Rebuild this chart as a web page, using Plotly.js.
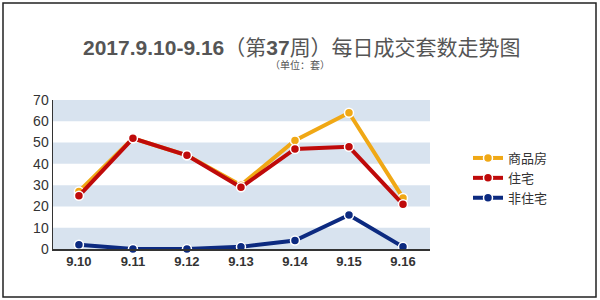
<!DOCTYPE html>
<html>
<head>
<meta charset="utf-8">
<script src="https://cdn.plot.ly/plotly-3.0.1.min.js"></script>
<style>
html,body{margin:0;padding:0;background:#fff;}
#chart{width:600px;height:300px;}
</style>
</head>
<body>
<div id="chart"></div>
<script>
const categories = ["9.10","9.11","9.12","9.13","9.14","9.15","9.16"];
const commercial = [27, 52, 44, 30, 51, 64, 24];   // 商品房
const residential = [25, 52, 44, 29, 47, 48, 21];  // 住宅
const nonResidential = [2, 0, 0, 1, 4, 16, 1];     // 非住宅
const seriesNames = ["商品房", "住宅", "非住宅"];
const yTicks = [0, 10, 20, 30, 40, 50, 60, 70];

const W = 600, H = 300;
const mL = 53, mR = 170, mT = 100, mB = 51;
const pw = W - mL - mR, ph = H - mT - mB;
const px = x => (x - mL) / pw;
const py = y => (H - mB - y) / ph;

const fontFam = "Liberation Sans, Arial, Noto Sans CJK SC, sans-serif";

function mk(name, ys, color) {
  return {
    type: "scatter", mode: "lines+markers", name: name,
    x: categories, y: ys,
    line: {color: color, width: 4},
    marker: {color: color, size: 9, line: {color: "#ffffff", width: 1.5}},
    cliponaxis: false
  };
}

const data = [
  mk(seriesNames[0], commercial, "#f0a815"),
  mk(seriesNames[1], residential, "#bf0a0a"),
  mk(seriesNames[2], nonResidential, "#0c2a80")
];

const shapes = [];
for (let i = 0; i < 70; i += 20) {
  shapes.push({type: "rect", xref: "paper", yref: "y", x0: 0, x1: 1, y0: i, y1: i + 10,
    fillcolor: "#d8e3ef", line: {width: 0}, layer: "below"});
}
// outer frame
shapes.push({type: "rect", xref: "paper", yref: "paper",
  x0: px(3), x1: px(596), y0: py(297), y1: py(3),
  line: {color: "#222", width: 1.5}, fillcolor: "rgba(0,0,0,0)", layer: "above"});

const layout = {
  width: W, height: H,
  margin: {l: mL, r: mR, t: mT, b: mB, pad: 0},
  paper_bgcolor: "#ffffff", plot_bgcolor: "#ffffff",
  title: {
    text: "<b>2017.9.10-9.16</b>（第<b>37</b>周）每日成交套数走势图",
    font: {family: fontFam, size: 21, color: "#555555"},
    x: 0.503, xanchor: "center", xref: "container",
    y: 1 - 48 / H, yanchor: "middle", yref: "container"
  },
  annotations: [{
    text: "（单位：套）", xref: "paper", yref: "paper",
    x: px(300), y: py(65), xanchor: "center", yanchor: "middle",
    showarrow: false, font: {family: fontFam, size: 10, color: "#555555"}
  }],
  xaxis: {
    type: "category", range: [-0.48, 6.5],
    showgrid: false, zeroline: false,
    showline: true, linecolor: "#333333", linewidth: 1.5,
    ticks: "", tickfont: {family: fontFam, size: 13, color: "#333333", weight: "bold"},
    fixedrange: true
  },
  yaxis: {
    range: [0, 70], tickvals: yTicks,
    showgrid: false, zeroline: false,
    showline: true, linecolor: "#333333", linewidth: 1.5,
    ticks: "", ticklen: 0,
    tickfont: {family: fontFam, size: 14, color: "#333333"},
    fixedrange: true
  },
  showlegend: true,
  legend: {
    x: px(468), xanchor: "left", y: py(178), yanchor: "middle",
    font: {family: fontFam, size: 13, color: "#333333"},
    bgcolor: "rgba(0,0,0,0)", tracegroupgap: 0, itemwidth: 30
  },
  shapes: shapes
};

Plotly.newPlot("chart", data, layout, {staticPlot: true, displayModeBar: false});
</script>
</body>
</html>
